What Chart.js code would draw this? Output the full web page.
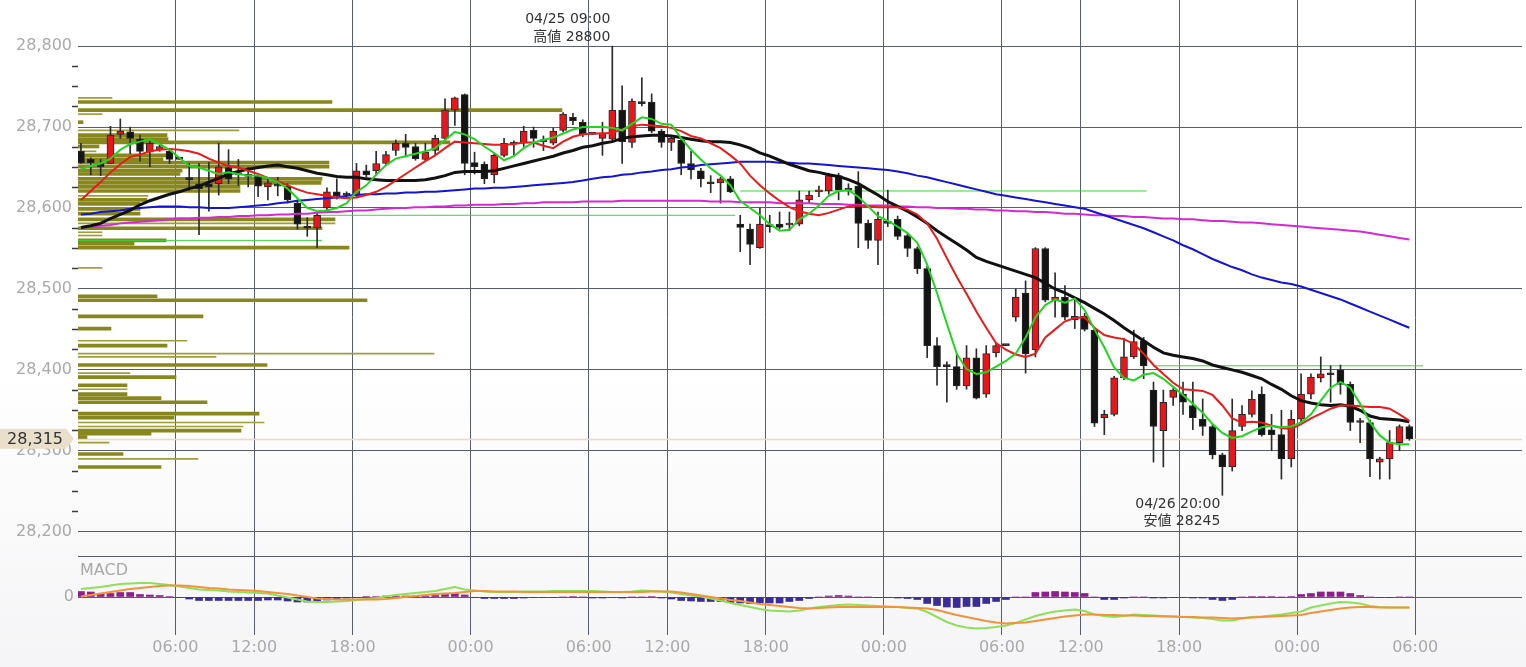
<!DOCTYPE html>
<html>
<head>
<meta charset="utf-8">
<script src="https://cdn.jsdelivr.net/npm/chart.js@4.4.0/dist/chart.umd.min.js"></script>
<style>
  html, body { margin: 0; padding: 0; background: #fff; }
  #wrap { width: 1526px; height: 667px; position: relative; }
</style>
</head>
<body>
<div id="wrap"><canvas id="chart"></canvas></div>
<script>
// 30-minute bars, night + day sessions
const times = [
  '01:00','01:30','02:00','02:30','03:00','03:30','04:00','04:30','05:00','05:30',
  '06:00','08:30','09:00','09:30','10:00','10:30','11:00','11:30',
  '12:00','12:30','13:00','13:30','14:00','14:30','15:00','16:30','17:00','17:30',
  '18:00','18:30','19:00','19:30','20:00','20:30','21:00','21:30','22:00','22:30','23:00','23:30',
  '00:00','00:30','01:00','01:30','02:00','02:30','03:00','03:30','04:00','04:30','05:00','05:30',
  '06:00','08:30','09:00','09:30','10:00','10:30','11:00','11:30',
  '12:00','12:30','13:00','13:30','14:00','14:30','15:00','16:30','17:00','17:30',
  '18:00','18:30','19:00','19:30','20:00','20:30','21:00','21:30','22:00','22:30','23:00','23:30',
  '00:00','00:30','01:00','01:30','02:00','02:30','03:00','03:30','04:00','04:30','05:00','05:30',
  '06:00','08:30','09:00','09:30','10:00','10:30','11:00','11:30',
  '12:00','12:30','13:00','13:30','14:00','14:30','15:00','16:30','17:00','17:30',
  '18:00','18:30','19:00','19:30','20:00','20:30','21:00','21:30','22:00','22:30','23:00','23:30',
  '00:00','00:30','01:00','01:30','02:00','02:30','03:00','03:30','04:00','04:30','05:00','05:30',
  '06:00'
];
const days = ['04/24', '04/25', '04/26', '04/27'];

const opens = [
  28670,28660,28655,28655,28691,28694,28685,28669,28672,28670,
  28660,28636,28630,28630,28630,28650,28643,28641,28639,28626,
  28628,28627,28606,28576,28575,28600,28620,28617,28616,28646,
  28646,28655,28671,28680,28676,28660,28671,28686,28721,28740,
  28656,28654,28641,28665,28681,28680,28696,28684,28680,28696,
  28712,28706,28691,28686,28685,28721,28681,28731,28731,28695,
  28681,28684,28655,28646,28631,28631,28636,28580,28574,28551,
  28578,28580,28579,28580,28610,28620,28621,28640,28623,28627,
  28581,28560,28583,28586,28566,28550,28525,28430,28405,28404,
  28380,28415,28370,28421,28430,28465,28495,28425,28550,28486,
  28490,28462,28466,28449,28341,28345,28390,28416,28436,28375,
  28325,28366,28370,28356,28339,28330,28295,28280,28330,28345,
  28370,28326,28320,28290,28339,28370,28390,28395,28400,28382,
  28336,28335,28286,28290,28310,28330
];
const highs = [
  28680,28662,28660,28701,28710,28700,28690,28682,28678,28672,
  28660,28655,28655,28656,28680,28672,28660,28650,28641,28637,
  28638,28630,28610,28588,28596,28625,28636,28620,28655,28653,
  28670,28670,28684,28691,28680,28680,28690,28735,28737,28741,
  28669,28657,28668,28686,28683,28701,28700,28689,28699,28718,
  28717,28709,28691,28706,28800,28751,28735,28761,28741,28697,
  28690,28687,28670,28649,28640,28638,28639,28591,28580,28600,
  28591,28595,28595,28621,28621,28627,28643,28643,28630,28645,
  28585,28595,28622,28590,28568,28552,28528,28440,28410,28420,
  28430,28426,28430,28433,28430,28500,28510,28551,28551,28520,
  28504,28486,28470,28452,28350,28392,28439,28449,28440,28385,
  28375,28377,28385,28385,28364,28333,28297,28364,28356,28374,
  28379,28345,28350,28350,28395,28395,28416,28405,28406,28385,
  28340,28338,28292,28325,28332,28332
];
const lows = [
  28655,28641,28640,28655,28686,28667,28658,28651,28670,28655,
  28660,28622,28567,28596,28616,28630,28628,28626,28614,28610,
  28615,28606,28574,28565,28551,28596,28611,28612,28614,28638,
  28641,28653,28665,28663,28659,28658,28665,28684,28702,28641,
  28642,28630,28631,28663,28666,28676,28675,28671,28678,28694,
  28703,28688,28691,28665,28683,28655,28675,28726,28693,28675,
  28671,28641,28636,28626,28619,28606,28619,28546,28530,28550,
  28570,28574,28572,28578,28607,28614,28617,28610,28616,28551,
  28550,28530,28577,28561,28540,28519,28415,28381,28360,28376,
  28376,28364,28366,28416,28430,28460,28396,28416,28484,28465,
  28462,28451,28448,28330,28320,28343,28388,28414,28389,28286,
  28280,28356,28345,28326,28319,28290,28245,28275,28325,28342,
  28318,28300,28265,28280,28336,28364,28385,28360,28370,28325,
  28310,28268,28265,28265,28300,28313
];
const closes = [
  28656,28656,28651,28690,28695,28686,28670,28680,28676,28660,
  28660,28635,28624,28626,28651,28636,28641,28639,28627,28631,
  28627,28610,28580,28575,28591,28620,28615,28616,28646,28641,
  28655,28666,28680,28675,28661,28669,28686,28721,28736,28655,
  28651,28636,28665,28680,28679,28695,28686,28682,28695,28716,
  28708,28691,28691,28693,28721,28682,28732,28729,28695,28681,
  28686,28655,28647,28636,28630,28636,28620,28576,28555,28580,
  28577,28576,28580,28610,28616,28622,28640,28622,28622,28581,
  28560,28586,28581,28565,28550,28525,28430,28404,28404,28380,
  28415,28365,28420,28430,28430,28490,28420,28550,28486,28490,
  28465,28466,28450,28334,28345,28390,28416,28435,28405,28330,
  28360,28375,28360,28341,28330,28295,28280,28325,28345,28364,
  28320,28320,28290,28339,28370,28391,28395,28394,28382,28335,
  28335,28290,28290,28310,28330,28315
];

// moving averages as drawn
const maGreen = [
  28648,28652,28655,28661,28672,28679,28682,28685,28679,28672,
  28662,28652,28650,28646,28642,28644,28642,28640,28640,28637,
  28632,28624,28612,28600,28596,28597,28600,28606,
  28620,28628,28641,28653,28661,28664,28667,28670,28674,28684,28694,28691,
  28685,28676,28668,28659,28664,28674,28681,28684,28687,28692,28697,28700,
  28700,28700,28699,28696,28704,28712,28710,28704,28703,28686,28672,28660,28649,28640,28628,
  28609,28600,28591,28580,28572,28573,28586,28593,28603,28615,28621,28622,28614,28602,
  28590,28584,28577,28569,28557,28530,28495,28457,28420,28401,28395,28397,28404,
  28411,28420,28440,28465,28480,28487,28483,28488,28474,28450,28428,28403,28390,28387,28394,
  28396,28389,28379,28369,28358,28347,28333,28322,28316,28318,28324,28329,28331,28329,
  28330,28335,28345,28362,28378,28385,28378,28358,28335,28319,28310,28308,28308
];
const maRed = [
  28610,28621,28632,28644,28654,28663,28666,28670,28672,28673,
  28672,28670,28667,28661,28656,28652,28650,28646,28642,28637,
  28633,28628,28623,28619,28617,28615,28613,28612,
  28613,28616,28620,28626,28634,28642,28650,28658,28665,28674,28682,28681,
  28680,28679,28678,28678,28679,28681,28681,28677,28674,28682,28688,28691,
  28692,28692,28693,28697,28701,28703,28702,28701,28699,28695,28689,28686,28680,28674,28665,
  28655,28640,28628,28618,28609,28601,28596,28593,28591,28594,28598,28602,28603,28602,
  28601,28601,28601,28598,28592,28581,28562,28538,28515,28494,28472,28452,28433,
  28425,28419,28416,28420,28440,28450,28460,28464,28465,28452,28443,28440,28438,28432,28420,
  28406,28395,28384,28376,28375,28374,28369,28356,28340,28335,28336,28335,28331,28328,
  28327,28333,28340,28346,28352,28356,28356,28355,28354,28354,28352,28345,28337
];
const maBlack = [
  28576,28578,28581,28587,28592,28597,28604,28609,28613,28617,
  28620,28624,28627,28632,28637,28642,28645,28648,28650,28652,
  28653,28651,28649,28646,28643,28641,28639,28638,
  28638,28636,28635,28634,28634,28634,28634,28635,28637,28640,28644,28645,
  28645,28645,28646,28649,28652,28655,28658,28661,28664,28668,28671,28675,
  28677,28680,28682,28686,28688,28689,28690,28690,28689,28687,28685,28683,28682,28682,28681,
  28678,28674,28668,28664,28659,28654,28650,28646,28644,28641,28639,28635,28630,28623,
  28616,28608,28602,28596,28589,28581,28572,28564,28556,28548,28539,28534,28530,
  28526,28522,28518,28514,28507,28500,28495,28489,28483,28476,28469,28461,28452,28444,28436,
  28428,28421,28418,28416,28414,28411,28406,28403,28400,28397,28393,28389,28382,28376,
  28368,28362,28359,28357,28356,28357,28355,28350,28343,28340,28339,28338,28336
];
const maBlue = [
  28592,28593,28595,28596,28597,28599,28600,28601,28602,28602,
  28602,28601,28601,28600,28600,28600,28601,28602,28603,28604,
  28606,28607,28609,28610,28611,28612,28613,28615,
  28616,28617,28617,28618,28618,28619,28619,28620,28620,28621,28622,28623,
  28624,28624,28625,28625,28626,28627,28628,28629,28630,28631,28632,28634,
  28636,28638,28639,28641,28642,28644,28645,28647,28648,28650,28651,28653,28654,28655,28656,
  28657,28657,28657,28657,28656,28656,28655,28655,28654,28653,28652,28651,28650,28649,
  28648,28647,28645,28643,28640,28638,28635,28632,28629,28626,28623,28620,28617,
  28615,28613,28611,28609,28607,28605,28603,28601,28599,28595,28591,28587,28583,28579,28575,
  28570,28565,28560,28554,28549,28543,28537,28532,28527,28523,28518,28514,28511,28508,
  28506,28503,28499,28495,28491,28487,28482,28477,28472,28467,28462,28457,28452
];
const maMagenta = [
  28576,28577,28578,28579,28581,28582,28583,28584,28585,28586,
  28587,28587,28588,28588,28589,28589,28590,28590,28591,28591,
  28592,28592,28593,28593,28594,28595,28595,28596,
  28597,28597,28598,28599,28600,28600,28601,28601,28602,28602,28603,28603,
  28604,28604,28604,28605,28605,28606,28606,28607,28607,28607,28607,28608,
  28608,28608,28608,28609,28609,28609,28609,28609,28609,28609,28609,28609,28608,28608,28608,
  28607,28607,28607,28607,28606,28606,28606,28606,28605,28605,28605,28604,28604,28603,
  28603,28603,28602,28602,28601,28601,28600,28600,28599,28599,28598,28598,28597,
  28597,28596,28596,28595,28595,28594,28593,28593,28592,28591,28591,28590,28590,28589,28589,
  28588,28587,28587,28586,28586,28585,28584,28584,28583,28582,28582,28581,28580,28579,
  28578,28577,28576,28575,28574,28573,28572,28571,28569,28567,28565,28563,28561
];

// MACD pane
const macdLine = [
  16,18,20,23,26,27,28,28,26,24,
  21,18,15,14,13,11,10,9,8,7,
  3,-1,-5,-9,-10,-10,-9,-8,
  -6,-4,-2,1,4,6,8,10,12,16,20,15,
  13,11,10,10,10,11,11,11,12,12,12,12,
  12,11,10,10,11,13,12,11,9,6,3,1,-3,-7,-12,
  -16,-20,-24,-27,-28,-29,-27,-23,-20,-18,-16,-15,-16,-17,
  -18,-19,-20,-22,-23,-30,-40,-50,-57,-61,-63,-62,-60,
  -57,-52,-45,-38,-33,-29,-27,-25,-28,-35,-38,-40,-38,-35,-36,
  -37,-38,-39,-40,-41,-42,-44,-47,-47,-43,-40,-39,-37,-35,
  -32,-29,-21,-17,-13,-10,-11,-13,-18,-20,-21,-21,-21
];
const signalLine = [
  1,4,7,10,13,16,18,20,22,23,
  23,22,20,18,17,15,14,13,12,10,
  8,6,3,0,-3,-4,-5,-5,
  -5,-5,-5,-4,-2,0,2,4,6,7,8,10,
  12,12,11,11,11,10,10,10,10,10,10,10,
  10,10,10,10,10,10,11,11,11,9,6,3,0,-3,-6,
  -8,-11,-14,-16,-18,-20,-22,-23,-22,-21,-20,-20,-20,-20,
  -20,-20,-20,-21,-22,-23,-26,-31,-36,-40,-44,-48,-51,
  -53,-52,-51,-48,-45,-42,-39,-37,-35,-35,-36,-36,-37,-37,-38,
  -38,-39,-39,-40,-40,-41,-41,-42,-43,-42,-41,-40,-39,-38,
  -37,-36,-32,-29,-26,-23,-21,-20,-20,-21,-21,-21,-21
];
const macdHist = [
  11,10,7,7,9,9,5,4,3,1,
  -1,-4,-7,-7,-7,-7,-7,-7,-7,-6,
  -6,-8,-10,-10,-9,-6,-3,-2,
  -1,1,1,2,2,2,2,2,3,5,7,4,
  -1,-3,-3,-3,-3,-2,-1,-1,-1,0,1,0,
  -2,-2,-1,-2,0,0,1,-2,-4,-7,-8,-9,-9,-9,-11,
  -12,-13,-12,-12,-12,-9,-7,-3,0,2,3,2,0,0,
  -1,-1,-2,-3,-5,-13,-17,-20,-21,-19,-19,-13,-9,
  -5,0,0,9,10,11,10,9,7,0,-5,-5,-2,0,0,
  -2,-2,-1,-1,-2,-2,-5,-7,-5,0,1,1,1,0,
  1,5,7,10,10,10,7,3,0,-1,-1,0,0
];

// price-by-volume profile
const vpHeavyPrice = [28731,28721,28706,28690,28685,28681,28676,28665,28660,28656,28651,28646,28642,28636,28631,28626,28621,28610,28605,28599,28593,28586,28575,28560,28556,28551,
  28491,28486,28466,28451,28430,28406,28391,28381,28370,28365,28360,28346,28341,28325,28321,28317,28296,28280];
const vpHeavyVol = [2540,4840,50,890,900,3720,210,880,850,2510,2510,1040,1020,2440,2430,1620,1620,690,620,620,620,2570,2440,880,560,2710,
  790,2890,1250,330,890,1890,980,490,490,830,1290,1810,960,1630,730,90,450,830];
const vpLightPrice = [28736,28716,28696,28670,28615,28581,28570,28566,28526,28436,28420,28416,28396,28376,28335,28330,28310,28290];
const vpLightVol = [340,240,1610,180,700,2570,240,240,240,1090,3560,1380,520,490,1860,1650,310,1200];

// horizontal level lines (price, from bar, to bar)
const levelPrice = [28560, 28591, 28621, 28405];
const levelFrom = [-0.3, 24, 67, 109];
const levelTo = [24.5, 66.5, 108.3, 136.4];

// price axis: labelled every 100, minor marks every 25
const priceLabelMin = 28200;
const priceLabelMax = 28800;
const priceMinorStep = 25;

const GRID = '#585d6e';
const AXIS_TXT = '#a9a9a9';
const RED = '#e8161c';
const BLK = '#141414';
Chart.defaults.font.family = '"DejaVu Sans", "Noto Sans CJK JP", sans-serif';

const dayOf = [];
{
  let d = 0;
  times.forEach((t, i) => { if (t === '00:00' && i > 0) d++; dayOf.push(days[d]); });
}
const hourMarks = ['00:00', '06:00', '12:00', '18:00'];
const xTicks = [];
times.forEach((t, i) => { if (hourMarks.includes(t)) xTicks.push({ value: i - 0.4, label: t }); });

const pts = arr => arr.map((v, i) => ({ x: i, y: v }));
const hiIdx = highs.indexOf(Math.max(...highs));
const loIdx = lows.indexOf(Math.min(...lows));
const last = closes[closes.length - 1];

const background = {
  id: 'background',
  beforeDraw(chart) {
    const { ctx, width, height } = chart;
    const g = ctx.createLinearGradient(0, 0, 0, height);
    g.addColorStop(0, '#ffffff');
    g.addColorStop(0.55, '#ffffff');
    g.addColorStop(1, '#f5f5f7');
    ctx.save();
    ctx.fillStyle = g;
    ctx.fillRect(0, 0, width, height);
    ctx.restore();
  }
};

const priceLine = {
  id: 'priceLine',
  beforeDatasetsDraw(chart) {
    const { ctx, chartArea } = chart;
    const py = Math.round(chart.scales.y.getPixelForValue(last)) + 0.5;
    ctx.save();
    ctx.strokeStyle = '#e6dcc8';
    ctx.lineWidth = 1.5;
    ctx.beginPath();
    ctx.moveTo(chartArea.left, py);
    ctx.lineTo(chartArea.right, py);
    ctx.stroke();
    ctx.restore();
  },
  afterDraw(chart) {
    const { ctx } = chart;
    const xs = chart.scales.x, ys = chart.scales.y, ym = chart.scales.yM;
    const py = ys.getPixelForValue(last);
    ctx.save();
    // last price tag
    ctx.fillStyle = '#e9dfcb';
    ctx.beginPath();
    ctx.moveTo(0, py - 10);
    ctx.lineTo(66, py - 10);
    ctx.lineTo(74, py);
    ctx.lineTo(66, py + 10);
    ctx.lineTo(0, py + 10);
    ctx.closePath();
    ctx.fill();
    ctx.fillStyle = '#333';
    ctx.font = '16px "DejaVu Sans"';
    ctx.textAlign = 'right';
    ctx.textBaseline = 'middle';
    ctx.fillText(last.toLocaleString('en-US'), 63, py + 1);

    // high / low notes
    ctx.font = '14px "DejaVu Sans", "Noto Sans CJK JP"';
    const hx = xs.getPixelForValue(hiIdx) - 2;
    const hy = ys.getPixelForValue(highs[hiIdx]);
    ctx.fillText(dayOf[hiIdx] + ' ' + times[hiIdx], hx, hy - 27);
    ctx.fillText('高値 ' + highs[hiIdx], hx, hy - 9);
    const lx = xs.getPixelForValue(loIdx) - 2;
    const ly = ys.getPixelForValue(lows[loIdx]);
    ctx.fillText(dayOf[loIdx] + ' ' + times[loIdx], lx, ly + 9);
    ctx.fillText('安値 ' + lows[loIdx], lx, ly + 26);

    // pane title
    ctx.fillStyle = AXIS_TXT;
    ctx.font = '16px "DejaVu Sans"';
    ctx.textAlign = 'left';
    ctx.fillText('MACD', chart.chartArea.left + 2, ym.top + 15);
    ctx.restore();
  }
};

const lineDs = (data, color, width, order, axis) => ({
  type: 'line', data: pts(data), borderColor: color, borderWidth: width,
  pointRadius: 0, tension: 0, order, xAxisID: 'x', yAxisID: axis || 'y'
});

const noPad = s => { s.paddingTop = 0; s.paddingBottom = 0; s.paddingLeft = 0; s.paddingRight = 0; };

new Chart(document.getElementById('chart'), {
  type: 'bar',
  data: {
    datasets: [
      lineDs(maGreen, '#22d422', 2, 1),
      lineDs(maRed, '#ea1b1b', 2, 2),
      lineDs(maBlack, '#111111', 3, 3),
      lineDs(maBlue, '#1414d2', 2, 4),
      lineDs(maMagenta, '#d42ad4', 2, 5),
      {
        type: 'bar', xAxisID: 'x', yAxisID: 'y', order: 10, grouped: false,
        data: opens.map((o, i) => ({ x: i, y: [o, closes[i]] })),
        backgroundColor: c => closes[c.dataIndex] > opens[c.dataIndex] ? RED : BLK,
        borderColor: '#262626', borderWidth: 1, borderSkipped: false,
        barThickness: 7, minBarLength: 2
      },
      {
        type: 'bar', xAxisID: 'x', yAxisID: 'y', order: 11, grouped: false,
        data: lows.map((l, i) => ({ x: i, y: [l, highs[i]] })),
        backgroundColor: '#2b2b2b', barThickness: 1
      },
      ...levelPrice.map((p, k) => ({
        type: 'line', xAxisID: 'x', yAxisID: 'y', order: 12,
        data: [{ x: levelFrom[k], y: p }, { x: levelTo[k], y: p }],
        borderColor: '#3ad43a', borderWidth: 1, pointRadius: 0
      })),
      {
        type: 'bar', indexAxis: 'y', xAxisID: 'xv', yAxisID: 'y', order: 20, grouped: false,
        data: vpHeavyPrice.map((p, k) => ({ y: p, x: vpHeavyVol[k] })),
        backgroundColor: '#87871d', barThickness: 3
      },
      {
        type: 'bar', indexAxis: 'y', xAxisID: 'xv', yAxisID: 'y', order: 21, grouped: false,
        data: vpLightPrice.map((p, k) => ({ y: p, x: vpLightVol[k] })),
        backgroundColor: '#9d9d3c', barThickness: 1
      },
      lineDs(signalLine, '#f2923a', 2, 1, 'yM'),
      lineDs(macdLine, '#8ee05a', 2, 2, 'yM'),
      {
        type: 'bar', xAxisID: 'x', yAxisID: 'yM', order: 6, grouped: false,
        data: pts(macdHist),
        backgroundColor: c => c.raw && c.raw.y >= 0 ? '#8d1e8b' : '#3b2c9c',
        barThickness: 7
      }
    ]
  },
  options: {
    responsive: true,
    maintainAspectRatio: false,
    animation: false,
    devicePixelRatio: 1,
    layout: { padding: { left: 0, right: 4, top: 0, bottom: 0 } },
    plugins: { legend: { display: false }, tooltip: { enabled: false } },
    scales: {
      x: {
        type: 'linear', position: 'bottom', min: -0.3, max: 146.45, offset: false,
        afterBuildTicks: s => { s.ticks = xTicks.map(t => ({ value: t.value })); },
        afterFit: s => { s.height = 32; noPad(s); },
        ticks: {
          autoSkip: false, maxRotation: 0, padding: 3, color: AXIS_TXT, font: { size: 16 },
          callback: (v, i) => (xTicks[i] ? xTicks[i].label : '')
        },
        grid: { color: GRID, drawTicks: false, offset: false },
        border: { display: false }
      },
      y: {
        type: 'linear', position: 'left', stack: 'pane', stackWeight: 556, weight: 1, offset: false,
        min: 28170, max: 28857,
        afterBuildTicks: s => {
          const t = [];
          for (let v = priceLabelMin; v <= priceLabelMax; v += priceMinorStep) t.push({ value: v });
          s.ticks = t;
        },
        afterFit: s => { s.width = 78; noPad(s); },
        ticks: {
          autoSkip: false, padding: 0, color: AXIS_TXT, font: { size: 16 },
          callback: v => (v % 100 === 0 ? v.toLocaleString('en-US') : '')
        },
        grid: {
          offset: false,
          color: c => (c.tick && c.tick.value % 100 === 0 ? GRID : 'rgba(0,0,0,0)'),
          tickColor: c => (c.tick && c.tick.value % 100 === 0 ? 'rgba(0,0,0,0)' : '#3a3a3a'),
          tickLength: 6, tickWidth: 1.5
        },
        border: { display: false }
      },
      yM: {
        type: 'linear', position: 'left', stack: 'pane', stackWeight: 79, weight: 0, offset: false,
        min: -76, max: 82,
        afterBuildTicks: s => { s.ticks = [{ value: 82 }, { value: 0 }]; },
        afterFit: s => { s.width = 78; noPad(s); },
        ticks: {
          autoSkip: false, padding: 4, color: AXIS_TXT, font: { size: 16 },
          callback: v => (v === 0 ? '0' : '')
        },
        grid: { color: GRID, drawTicks: false, offset: false },
        border: { display: false }
      },
      xv: { type: 'linear', axis: 'x', position: 'top', display: false, offset: false, min: 0, max: 14440 }
    }
  },
  plugins: [background, priceLine]
});
</script>
</body>
</html>
